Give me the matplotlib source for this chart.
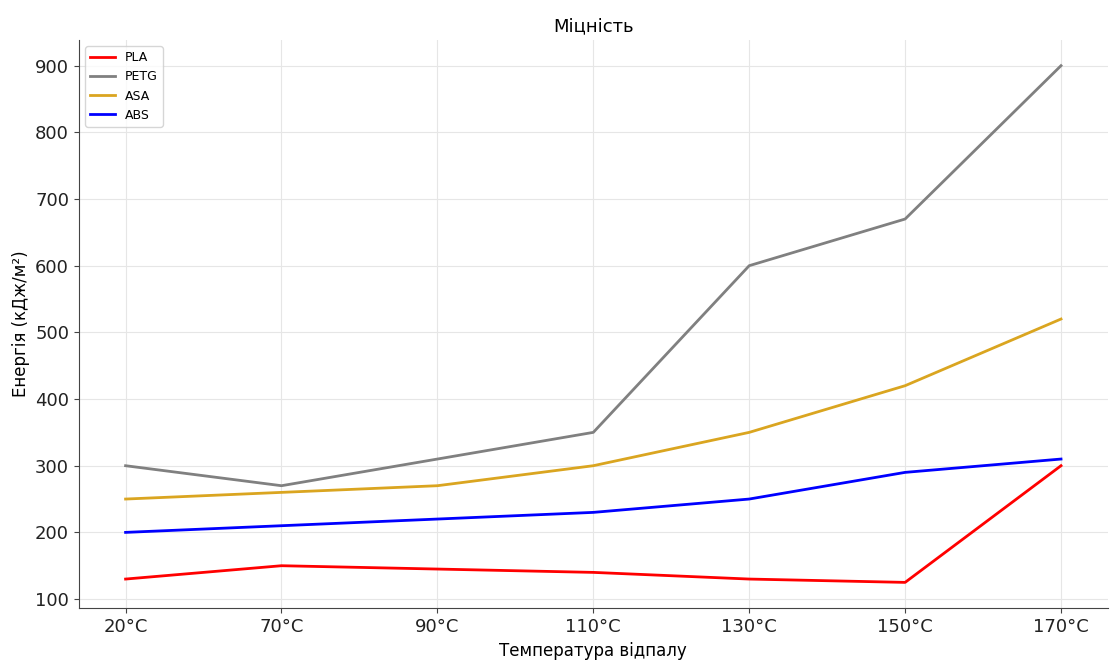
import matplotlib
matplotlib.use("Agg")
import matplotlib.pyplot as plt

temps = ["20°C", "70°C", "90°C", "110°C", "130°C", "150°C", "170°C"]
pla = [130, 150, 145, 140, 130, 125, 300]
petg = [300, 270, 310, 350, 600, 670, 900]
asa = [250, 260, 270, 300, 350, 420, 520]
abs_ = [200, 210, 220, 230, 250, 290, 310]

series = [("PLA", pla, "red"), ("PETG", petg, "gray"),
          ("ASA", asa, "goldenrod"), ("ABS", abs_, "blue")]

fig = plt.figure(figsize=(11.1, 6.64), dpi=100)
ax = fig.add_axes([0.071, 0.084, 0.927, 0.856])

x = range(len(temps))
for name, vals, color in series:
    ax.plot(x, vals, color=color, linewidth=2, label=name)

ax.set_xticks(list(x))
ax.set_xticklabels(temps)
ax.tick_params(labelsize=13, color="#444444", labelcolor="#222222")
ax.set_title("Міцність", fontsize=13)
ax.set_xlabel("Температура відпалу", fontsize=12)
ax.set_ylabel("Енергія (кДж/м²)", fontsize=12)
ax.grid(True, color="#e6e6e6", linewidth=0.8)
ax.spines["top"].set_visible(False)
ax.spines["right"].set_visible(False)
for s in ("left", "bottom"):
    ax.spines[s].set_color("#444444")
ax.legend(loc="upper left", fontsize=9)

fig.savefig("out.png")
